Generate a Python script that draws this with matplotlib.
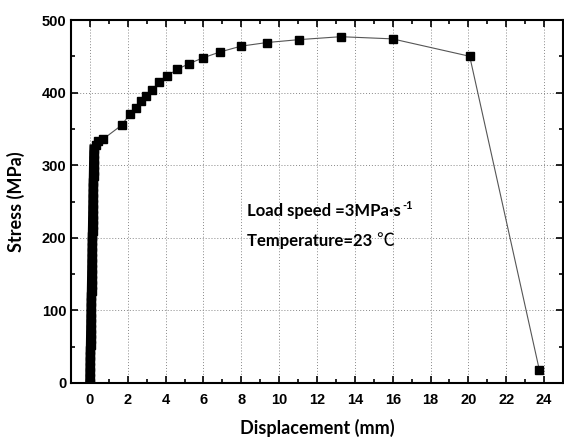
import matplotlib
matplotlib.use("Agg")
import matplotlib.pyplot as plt
from matplotlib.ticker import MultipleLocator

plt.rcParams["font.family"] = ["Liberation Sans", "DejaVu Sans"]
plt.rcParams["font.weight"] = "bold"

# elastic part (dense band of points near zero displacement)
disp_elastic = [0.000, 0.005, 0.010, 0.015, 0.020, 0.025, 0.030, 0.035, 0.040, 0.045,
                0.050, 0.055, 0.060, 0.065, 0.070, 0.075, 0.080, 0.085, 0.090, 0.095,
                0.100, 0.105, 0.110, 0.115, 0.120, 0.125, 0.130, 0.135, 0.140, 0.145,
                0.150, 0.155, 0.160, 0.165, 0.170, 0.175, 0.180, 0.185, 0.190, 0.195,
                0.200, 0.205, 0.210, 0.220]
stress_elastic = [0, 7, 15, 22, 30, 37, 45, 52, 60, 67,
                  75, 82, 90, 97, 105, 112, 120, 127, 135, 142,
                  150, 157, 165, 172, 180, 187, 195, 202, 210, 217,
                  225, 232, 240, 247, 255, 262, 270, 277, 285, 292,
                  300, 307, 315, 322]

# plastic part
disp_plastic = [0.30, 0.45, 0.70, 1.67, 2.10, 2.42, 2.68, 2.98, 3.29, 3.64, 4.08,
                4.61, 5.25, 5.99, 6.88, 7.99, 9.37, 11.07, 13.26, 15.99, 20.07, 23.75]
stress_plastic = [328, 334, 336, 355, 370, 379, 388, 396, 404, 414, 423,
                  432, 440, 448, 456, 464, 469, 473, 477, 474, 450, 18]

disp = disp_elastic + disp_plastic
stress = stress_elastic + stress_plastic

fig = plt.figure(figsize=(5.64, 4.37), dpi=100)
ax = fig.add_axes([71 / 564, 1 - 383 / 437, 492 / 564, 363 / 437])

ax.plot(disp, stress, color="#555555", lw=0.8, marker="s", ms=5.8,
        mfc="black", mec="black", zorder=3)
# the overlapping markers of the elastic part merge into one solid band
ax.plot(disp_elastic, stress_elastic, color="black", lw=6.8, solid_capstyle="projecting",
        zorder=4)

ax.set_xlim(-1, 25)
ax.set_ylim(0, 500)
ax.xaxis.set_major_locator(MultipleLocator(2))
ax.xaxis.set_minor_locator(MultipleLocator(1))
ax.yaxis.set_major_locator(MultipleLocator(100))
ax.yaxis.set_minor_locator(MultipleLocator(50))
ax.grid(True, which="major", ls=(0, (1, 2)), color="#888888", lw=0.7)
ax.tick_params(which="both", direction="in", top=True, right=True, width=1.2,
               labelsize=10.5)
ax.tick_params(which="major", length=5)
ax.tick_params(which="minor", length=3)
ax.tick_params(axis="x", pad=7)
for s in ax.spines.values():
    s.set_linewidth(1.5)
    s.set_zorder(5)

ax.set_xlabel("Displacement (mm)", family="Lato", fontweight="bold", fontsize=13, labelpad=9)
ax.set_ylabel("Stress (MPa)", family="Lato", fontweight="bold", fontsize=13, labelpad=12)

t1 = ax.text(8.3, 237, "Load speed =3MPa\u00b7s", family="Lato", fontweight="bold",
             fontsize=12, va="center")
ax.annotate("-1", xy=(1, 1), xycoords=t1, xytext=(1, -2), textcoords="offset points",
            va="center", ha="left", family="Lato", fontweight="bold", fontsize=8)
t2 = ax.text(8.3, 196, "Temperature=23 ", family="Lato", fontweight="bold", fontsize=12,
             va="center")
ax.annotate("\u2103", xy=(1, 0.5), xycoords=t2, va="center", ha="left",
            family=["Noto Sans CJK SC", "DejaVu Sans"], fontweight="normal", fontsize=13)

fig.savefig("out.png", dpi=100)
